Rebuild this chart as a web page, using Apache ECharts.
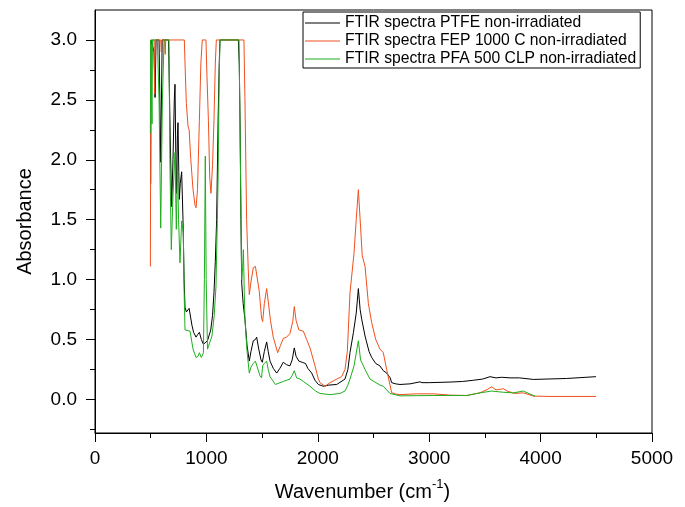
<!DOCTYPE html>
<html>
<head>
<meta charset="utf-8">
<script src="https://cdn.jsdelivr.net/npm/echarts@6/dist/echarts.min.js"></script>
<style>html,body{margin:0;padding:0;background:#fff}#c{width:685px;height:507px}</style>
</head>
<body>
<div id="c"></div>
<script>
// ---- data (wavenumber cm^-1, absorbance) ----
var seriesNames = ['FTIR spectra PTFE non-irradiated', 'FTIR spectra FEP 1000 C non-irradiated', 'FTIR spectra PFA 500 CLP non-irradiated'];

var ptfeWn = [500,503,520,530,539,548,575,590,603,660,675,688,700,712,718,726,732,740,745,752,757,765,778,790,800,808,820,830,845,853,870,885,907,920,937,955,973,990,1010,1039,1055,1068,1080,1092,1105,1115,1122,1287,1295,1302,1310,1317,1330,1346,1365,1385,1400,1421,1440,1451,1470,1490,1502,1520,1541,1555,1571,1600,1631,1660,1690,1720,1750,1770,1789,1805,1830,1860,1890,1910,1945,1975,2005,2050,2100,2170,2244,2270,2289,2320,2345,2364,2380,2394,2424,2460,2484,2520,2558,2588,2618,2650,2663,2700,2738,2828,2917,2935,3000,3187,3300,3396,3480,3546,3600,3650,3725,3810,3935,4234,4497];
var ptfeAbs = [1.80,3.0,3.0,2.9,2.52,3.0,3.0,1.98,3.0,3.0,2.2,1.61,2.0,2.5,2.63,2.0,1.72,2.2,2.31,1.9,1.67,1.8,1.9,1.5,1.0,0.77,0.73,0.72,0.76,0.75,0.62,0.56,0.52,0.54,0.56,0.5,0.46,0.47,0.49,0.58,0.7,0.89,1.15,1.5,2.33,2.8,3.0,3.0,2.8,2.33,1.5,0.97,0.8,0.67,0.45,0.32,0.4,0.49,0.5,0.52,0.42,0.33,0.31,0.4,0.48,0.4,0.32,0.26,0.22,0.26,0.31,0.29,0.28,0.33,0.43,0.36,0.32,0.31,0.3,0.26,0.22,0.16,0.125,0.11,0.12,0.125,0.17,0.25,0.39,0.56,0.72,0.925,0.75,0.67,0.53,0.4,0.35,0.3,0.28,0.24,0.22,0.18,0.14,0.13,0.125,0.13,0.147,0.14,0.14,0.145,0.15,0.16,0.17,0.19,0.18,0.185,0.18,0.18,0.167,0.175,0.19];

var fepWn = [497,502,530,535,540,590,595,600,625,630,635,802,810,820,835,845,860,880,898,907,920,937,950,963,996,1005,1018,1030,1041,1055,1068,1080,1089,1337,1346,1361,1375,1385,1400,1421,1440,1457,1475,1495,1505,1520,1541,1560,1575,1600,1640,1665,1690,1720,1750,1775,1789,1805,1830,1870,1900,1930,1975,2005,2020,2065,2110,2170,2214,2244,2265,2289,2325,2345,2364,2384,2399,2424,2454,2484,2520,2558,2588,2618,2663,2700,2738,2888,3037,3187,3337,3456,3520,3561,3600,3640,3665,3700,3765,3845,3935,4084,4497];
var fepAbs = [1.11,3.0,3.0,2.55,3.0,3.0,2.9,3.0,3.0,2.88,3.0,3.0,2.75,2.47,2.28,2.25,2.0,1.75,1.62,1.6,1.75,2.33,2.8,3.0,3.0,2.7,2.33,1.85,1.72,1.95,2.33,2.8,3.0,3.0,2.5,1.5,1.1,0.875,0.98,1.1,1.11,1.125,0.9,0.68,0.65,0.8,0.925,0.78,0.66,0.52,0.39,0.45,0.51,0.52,0.55,0.65,0.775,0.66,0.58,0.57,0.5,0.43,0.28,0.17,0.14,0.11,0.14,0.17,0.19,0.25,0.4,0.89,1.22,1.5,1.75,1.44,1.2,1.11,0.8,0.64,0.5,0.42,0.39,0.25,0.056,0.045,0.04,0.047,0.047,0.036,0.033,0.055,0.083,0.105,0.08,0.085,0.09,0.07,0.05,0.055,0.028,0.025,0.025];

var pfaWn = [497,500,508,512,516,560,575,590,605,620,664,672,685,700,718,730,740,750,763,778,793,800,808,820,853,880,907,925,937,955,973,982,990,998,1010,1025,1050,1070,1086,1104,1115,1122,1293,1305,1317,1325,1332,1340,1346,1365,1385,1400,1421,1440,1457,1480,1495,1505,1520,1541,1555,1571,1620,1690,1750,1770,1789,1810,1840,1870,1930,1980,2020,2110,2199,2244,2270,2289,2325,2364,2384,2424,2469,2558,2588,2648,2738,3037,3337,3456,3561,3665,3755,3845,3935,3950];
var pfaAbs = [2.22,3.0,3.0,2.3,3.0,3.0,2.5,1.43,2.5,3.0,3.0,2.0,1.25,1.7,2.06,1.42,2.0,1.5,1.14,1.49,1.39,0.9,0.58,0.57,0.57,0.42,0.35,0.36,0.39,0.35,0.39,1.0,2.03,1.0,0.42,0.43,0.53,0.7,0.94,1.78,2.7,3.0,3.0,2.0,1.0,1.1,1.25,0.9,0.67,0.4,0.22,0.27,0.3,0.32,0.32,0.2,0.18,0.28,0.3,0.32,0.25,0.19,0.125,0.15,0.17,0.2,0.24,0.18,0.17,0.15,0.11,0.07,0.05,0.04,0.05,0.07,0.12,0.17,0.28,0.49,0.33,0.25,0.17,0.12,0.11,0.05,0.03,0.033,0.033,0.055,0.07,0.06,0.055,0.07,0.033,0.03];

var xTicks = [0, 1000, 2000, 3000, 4000, 5000];
var yMajorTicks = [0, 0.5, 1.0, 1.5, 2.0, 2.5, 3.0];
var yMinorTicks = [-0.25, 0.25, 0.75, 1.25, 1.75, 2.25, 2.75];

function zip(a, b) { return a.map(function (v, i) { return [v, b[i]]; }); }

var FONT = 'Liberation Sans';
var chart = echarts.init(document.getElementById('c'), null, {renderer: 'canvas'});
chart.setOption({
  animation: false,
  backgroundColor: '#fff',
  grid: {left: 95, right: 33, top: 10, bottom: 73, show: true, borderColor: '#000', borderWidth: 1, backgroundColor: 'transparent'},
  legend: {
    orient: 'vertical', left: 303, top: 12,
    data: seriesNames,
    icon: 'rect', itemWidth: 35, itemHeight: 1, itemGap: 0, itemTextGap: 5,
    padding: [2, 4, 0, 2],
    borderColor: '#000', borderWidth: 1, backgroundColor: '#fff', borderRadius: 0,
    textStyle: {fontFamily: FONT, fontSize: 15.7, lineHeight: 18, color: '#000'}
  },
  xAxis: {
    type: 'value', min: 0, max: 5000, interval: 1000,
    axisLine: {show: true, onZero: false, lineStyle: {color: '#000', width: 1}},
    axisTick: {show: true, length: 9, lineStyle: {color: '#000'}},
    minorTick: {show: true, splitNumber: 2, length: 5, lineStyle: {color: '#000'}},
    splitLine: {show: false},
    axisLabel: {fontFamily: FONT, fontSize: 19, color: '#000', margin: 16,
      formatter: function (v) { return String(v); }},
    name: '{a|Wavenumber (cm}{b|-1}{a|)}',
    nameLocation: 'middle', nameGap: 45,
    nameTextStyle: {
      padding: [0, 22, 0, 0],
      rich: {
        a: {fontFamily: FONT, fontSize: 20, color: '#000', lineHeight: 28},
        b: {fontFamily: FONT, fontSize: 13, color: '#000', lineHeight: 13, verticalAlign: 'top'}
      }
    }
  },
  yAxis: [{
    type: 'value', min: -0.28, max: 3.25,
    axisLine: {show: true, onZero: false, lineStyle: {color: '#000', width: 1}},
    axisTick: {show: true, length: 9, customValues: yMajorTicks, lineStyle: {color: '#000'}},
    axisLabel: {fontFamily: FONT, fontSize: 19, color: '#000', margin: 18, customValues: yMajorTicks,
      formatter: function (v) { return v.toFixed(1); }},
    splitLine: {show: false},
    name: 'Absorbance', nameLocation: 'middle', nameGap: 60,
    nameTextStyle: {fontFamily: FONT, fontSize: 20, color: '#000'}
  }, {
    type: 'value', min: -0.28, max: 3.25, position: 'left',
    axisLine: {show: false, onZero: false},
    axisTick: {show: true, length: 5, customValues: yMinorTicks, lineStyle: {color: '#000'}},
    axisLabel: {show: false},
    splitLine: {show: false}
  }],
  series: [
    {name: seriesNames[0], type: 'line', data: zip(ptfeWn, ptfeAbs), showSymbol: false, symbol: 'none', lineStyle: {color: '#000000', width: 1}, itemStyle: {color: '#000000'}, z: 2},
    {name: seriesNames[1], type: 'line', data: zip(fepWn, fepAbs), showSymbol: false, symbol: 'none', lineStyle: {color: '#f0501e', width: 1}, itemStyle: {color: '#f0501e'}, z: 3},
    {name: seriesNames[2], type: 'line', data: zip(pfaWn, pfaAbs), showSymbol: false, symbol: 'none', lineStyle: {color: '#1fae1f', width: 1}, itemStyle: {color: '#1fae1f'}, z: 4}
  ]
});
</script>
</body>
</html>
